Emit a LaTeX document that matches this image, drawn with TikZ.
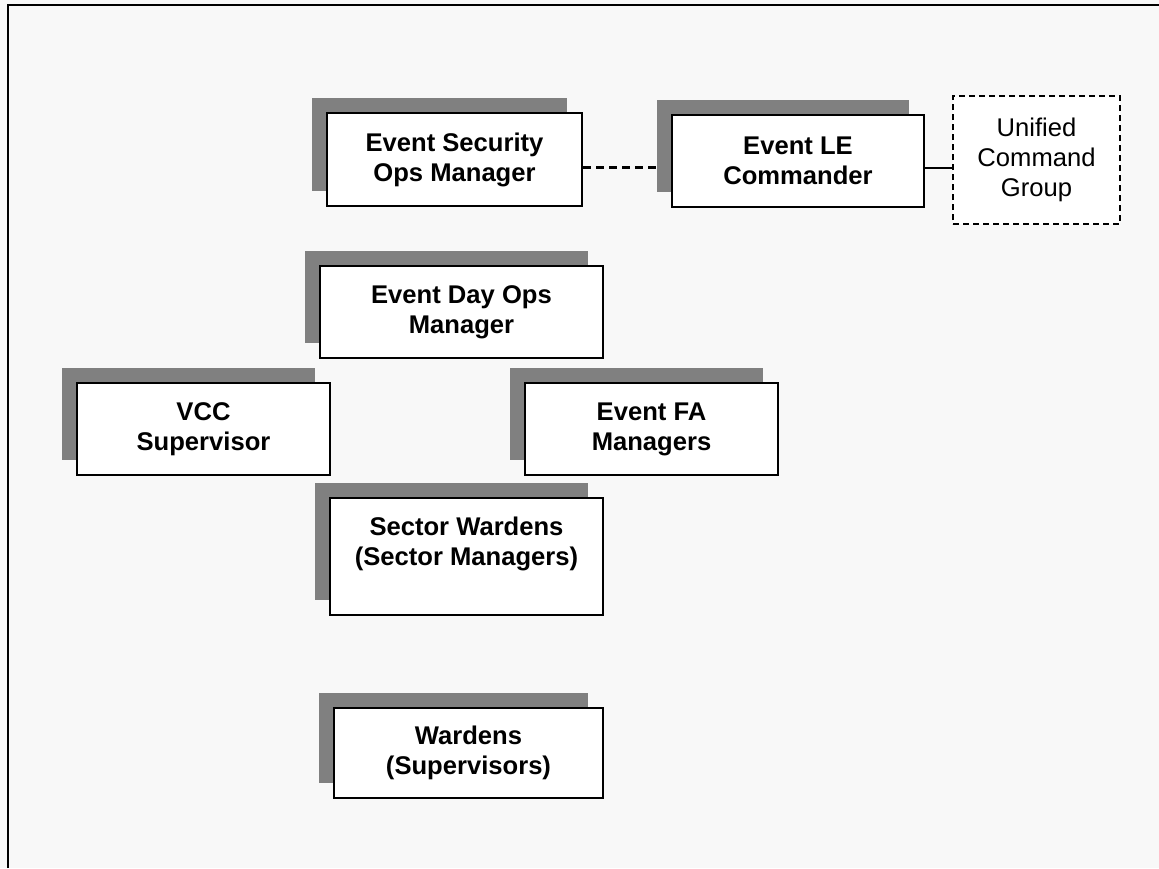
\documentclass[tikz,border=0pt]{standalone}
\usepackage{fontspec}
\setmainfont{Liberation Sans}
\usepackage{tikz}
\usetikzlibrary{positioning,calc,backgrounds,shadows}
\definecolor{ocShadow}{RGB}{128,128,128}
\definecolor{ocPaper}{RGB}{248,248,248}
\definecolor{ocInk}{RGB}{0,0,0}
\tikzset{
    base/.style={font=\fontsize{12.8}{15}\selectfont, align=center, inner sep=0pt},
    role/.style={base, rectangle, draw=ocInk, line width=1pt, fill=white,
                 font=\fontsize{12.8}{15}\selectfont\bfseries,
                 general shadow={fill=ocShadow, shadow xshift=-7.5pt, shadow yshift=7.5pt}},
    group/.style={base, rectangle, draw=ocInk, line width=0.9pt, fill=white,
                  dash pattern=on 3pt off 2pt},
    link/.style={line width=1.1pt, color=ocInk},
    frame/.style={line width=1.3pt, color=ocInk}
}

\begin{document}
\begin{tikzpicture}[x=0.5pt, y=-0.5pt]
  \useasboundingbox (0,0) rectangle (1159,868);
  \begin{scope}[on background layer]
    \fill[ocPaper] (0,0) rectangle (1159,868);
    \draw[frame] (8,868) -- (8,5) -- (1159,5);
  \end{scope}

  % Command level
  \node[role, minimum width=127.5pt, minimum height=46.5pt] (esom) at (454.5,159.5) {Event Security\\Ops Manager};
  \node[role, minimum width=126pt, minimum height=46pt] (lecmd) at (798,161) {Event LE\\Commander};
  \node[group, minimum width=83.5pt, minimum height=64pt] (ucg) at (1036.5,160) {Unified\\Command\\Group};

  % Operations
  \node[role, minimum width=141.5pt, minimum height=46pt] (edom) at (461.5,312) {Event Day Ops\\Manager};
  \node[role, minimum width=126.5pt, minimum height=46pt] (vcc) at (203.5,429) {VCC\\Supervisor};
  \node[role, minimum width=126.5pt, minimum height=46pt] (fam) at (651.5,429) {Event FA\\Managers};

  % Wardens
  \node[role, minimum width=136.5pt, minimum height=58.5pt] (sector) at (466.5,556.5) {Sector Wardens\\(Sector Managers)\\~};
  \node[role, minimum width=134.5pt, minimum height=45pt] (wardens) at (468.5,753) {Wardens\\(Supervisors)};

  % Links
  \begin{scope}[on background layer]
    \draw[link, dash pattern=on 4pt off 2.5pt] ([yshift=-4pt]esom.east) -- ([yshift=-4pt]esom.east -| lecmd.west);
    \draw[link] ([yshift=-3.5pt]lecmd.east) -- ([yshift=-3.5pt]lecmd.east -| ucg.west);
  \end{scope}
\end{tikzpicture}
\end{document}
